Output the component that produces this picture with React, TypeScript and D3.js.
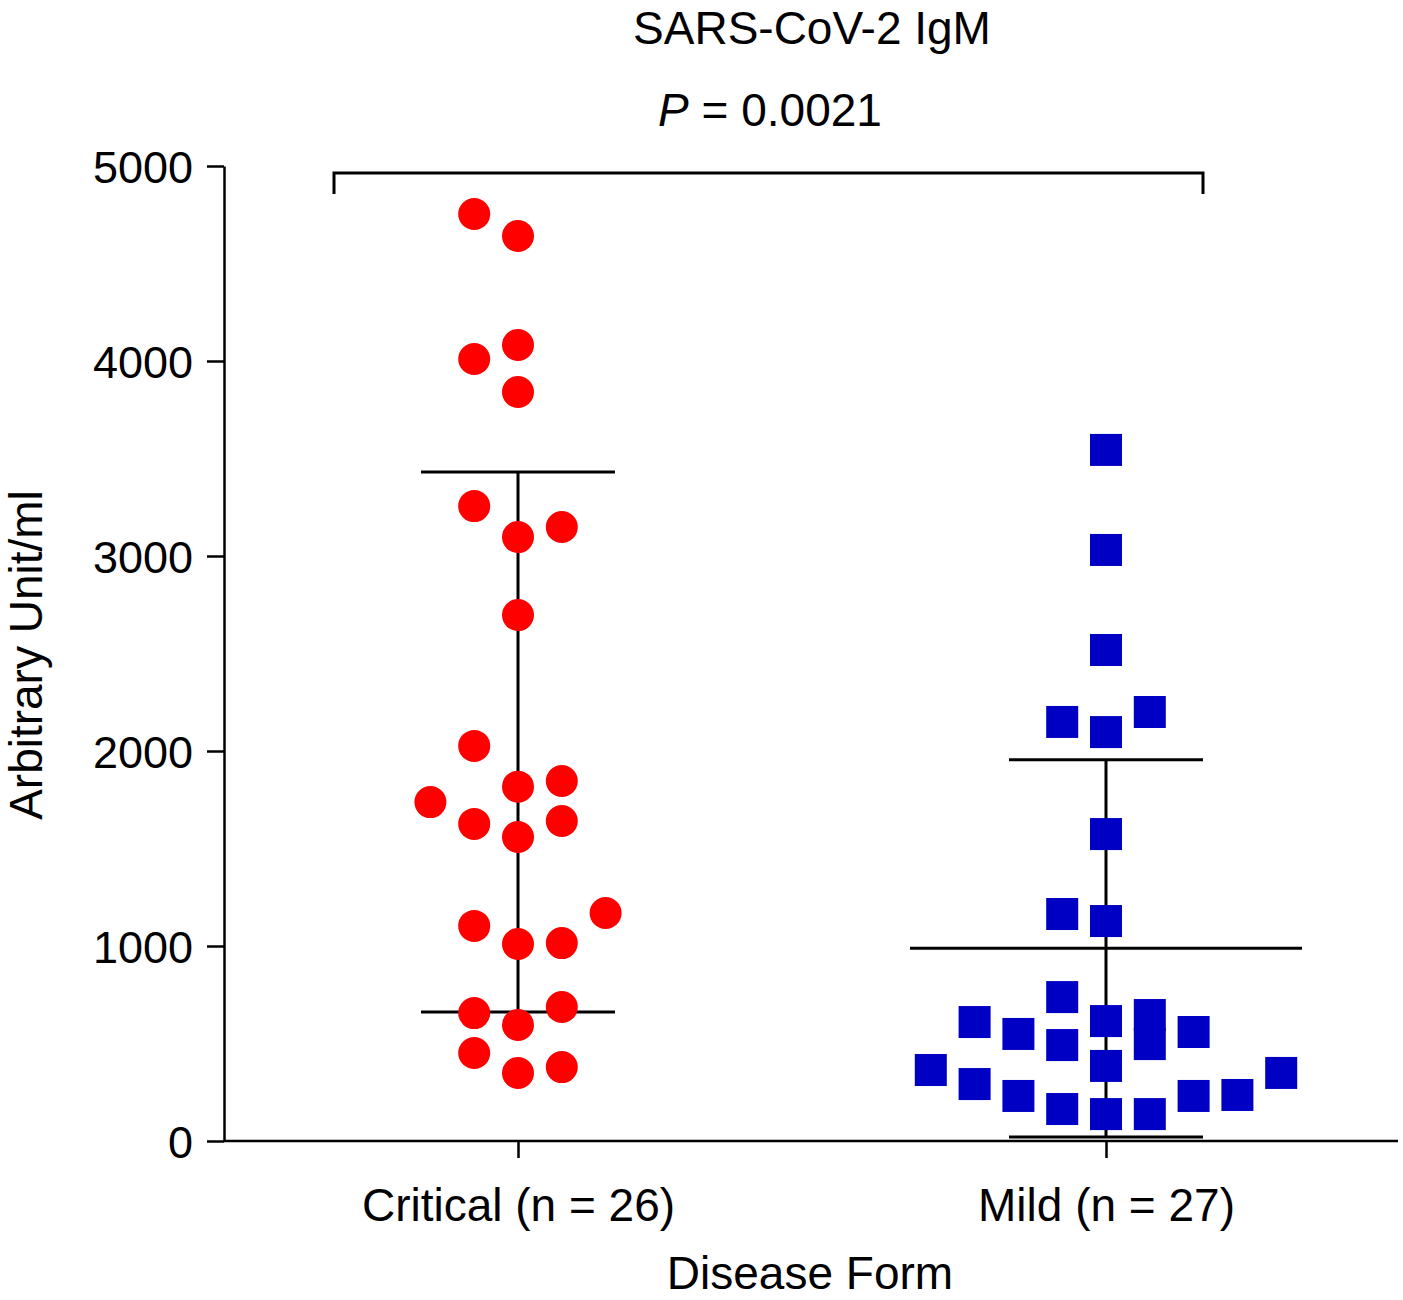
import * as d3 from 'd3';
import React, { useEffect, useRef } from 'react';

// values (Arbitrary Unit/ml) and the beeswarm column of each point
const groups = ['Critical', 'Mild'];
const groupLabels = ['Critical (n = 26)', 'Mild (n = 27)'];

const criticalValues = [
    4754, 4641, 4010, 4082, 3841, 3256, 3097, 3149, 2697, 2026, 1817, 1846, 1738,
    1626, 1559, 1641, 1169, 1103, 1010, 1015, 656, 595, 687, 451, 349, 379,
];
const criticalSlots = [-1, 0, -1, 0, 0, -1, 0, 1, 0, -1, 0, 1, -2, -1, 0, 1, 2, -1, 0, 1, -1, 0, 1, -1, 0, 1];

const mildValues = [
    3544, 3031, 2518, 2149, 2097, 2200, 1574, 1164, 1128, 364, 610, 292, 549, 231,
    738, 492, 164, 615, 385, 138, 646, 497, 138, 559, 231, 236, 349,
];
const mildSlots = [0, 0, 0, -1, 0, 1, 0, -1, 0, -4, -3, -3, -2, -2, -1, -1, -1, 0, 0, 0, 1, 1, 1, 2, 2, 3, 4];

// mean +/- SD bars (the critical mean line is not drawn in the original)
const groupMeans = [2046, 988];
const groupSds = [1385, 967];
const showMeanLine = [false, true];

const yTicks = [0, 1000, 2000, 3000, 4000, 5000];

const title = 'SARS-CoV-2 IgM';
const pValue = '0.0021';
const xTitle = 'Disease Form';
const yTitle = 'Arbitrary Unit/ml';

const W = 1403;
const H = 1300;
const FONT = 'Arial, "Liberation Sans", Helvetica, sans-serif';

export default function App() {
    const ref = useRef<SVGSVGElement>(null);

    useEffect(() => {
        const svg = d3.select(ref.current);
        svg.selectAll('*').remove();

        const left = 224;
        const right = 1400;
        const top = 166;
        const bottom = 1141;

        const y = d3.scaleLinear().domain([0, 5000]).range([bottom, top]);
        const x = d3.scalePoint<string>().domain(groups).range([left, right]).padding(0.5);
        const jitter = d3.scaleLinear().domain([-1, 1]).range([-43.8, 43.8]);

        // y axis
        const yAxis = svg.append('g')
            .attr('transform', `translate(${left},0)`)
            .call(d3.axisLeft(y).tickValues(yTicks).tickSize(17).tickSizeOuter(0).tickPadding(14).tickFormat(d3.format('d')));
        yAxis.select('.domain').attr('stroke-width', 2.5);
        yAxis.selectAll('.tick line').attr('stroke-width', 2.5);
        yAxis.selectAll('.tick text')
            .attr('font-size', 45).attr('font-family', FONT).attr('fill', '#000').attr('dy', '0.36em');

        // x axis
        const xAxis = svg.append('g')
            .attr('transform', `translate(0,${bottom})`)
            .call(d3.axisBottom(x).tickSize(17).tickSizeOuter(0).tickPadding(30)
                .tickFormat((d) => groupLabels[groups.indexOf(d as string)]));
        xAxis.select('.domain').attr('stroke-width', 2.5).attr('d', `M${left},0H${right - 2}`);
        xAxis.selectAll('.tick line').attr('stroke-width', 2.5);
        xAxis.selectAll('.tick text')
            .attr('font-size', 46).attr('font-family', FONT).attr('fill', '#000');

        const plot = svg.append('g');

        // error bars
        groups.forEach((g, i) => {
            const cx = x(g) as number;
            const lo = Math.max(0, groupMeans[i] - groupSds[i]);
            const hi = groupMeans[i] + groupSds[i];
            plot.append('line')
                .attr('x1', cx).attr('x2', cx).attr('y1', y(lo)).attr('y2', y(hi))
                .attr('stroke', '#000').attr('stroke-width', 3);
            [lo, hi].forEach((v) => {
                plot.append('line')
                    .attr('x1', cx - 97).attr('x2', cx + 97).attr('y1', y(v)).attr('y2', y(v))
                    .attr('stroke', '#000').attr('stroke-width', 3);
            });
            if (showMeanLine[i]) {
                plot.append('line')
                    .attr('x1', cx - 196).attr('x2', cx + 196)
                    .attr('y1', y(groupMeans[i])).attr('y2', y(groupMeans[i]))
                    .attr('stroke', '#000').attr('stroke-width', 3);
            }
        });

        // critical: red circles
        const cx0 = x('Critical') as number;
        plot.selectAll('circle.crit')
            .data(criticalValues)
            .enter()
            .append('circle')
            .attr('class', 'crit')
            .attr('cx', (_d, i) => cx0 + jitter(criticalSlots[i]))
            .attr('cy', (d) => y(d))
            .attr('r', 16)
            .attr('fill', '#ff0000');

        // mild: blue squares
        const cx1 = x('Mild') as number;
        const side = 32;
        plot.selectAll('rect.mild')
            .data(mildValues)
            .enter()
            .append('rect')
            .attr('class', 'mild')
            .attr('x', (_d, i) => cx1 + jitter(mildSlots[i]) - side / 2)
            .attr('y', (d) => y(d) - side / 2)
            .attr('width', side)
            .attr('height', side)
            .attr('fill', '#0000c4');

        // significance bracket
        const bx1 = 334;
        const bx2 = 1203;
        const by = 173;
        svg.append('path')
            .attr('d', `M${bx1},${by + 21}V${by}H${bx2}V${by + 21}`)
            .attr('fill', 'none').attr('stroke', '#000').attr('stroke-width', 3);

        const text = svg.append('g').attr('font-family', FONT).attr('fill', '#000');

        text.append('text')
            .attr('x', 812).attr('y', 44).attr('text-anchor', 'middle').attr('font-size', 46)
            .text(title);

        const p = text.append('text')
            .attr('x', 770).attr('y', 126).attr('text-anchor', 'middle').attr('font-size', 46);
        p.append('tspan').attr('font-style', 'italic').text('P');
        p.append('tspan').text(` = ${pValue}`);

        text.append('text')
            .attr('x', 810).attr('y', 1289).attr('text-anchor', 'middle').attr('font-size', 46)
            .text(xTitle);

        text.append('text')
            .attr('transform', `translate(42,655) rotate(-90)`)
            .attr('text-anchor', 'middle').attr('font-size', 46)
            .text(yTitle);
    }, []);

    return (
        <svg
            ref={ref}
            width={W}
            height={H}
            style={{ position: 'absolute', left: 0, top: 0, background: '#fff' }}
        />
    );
}
